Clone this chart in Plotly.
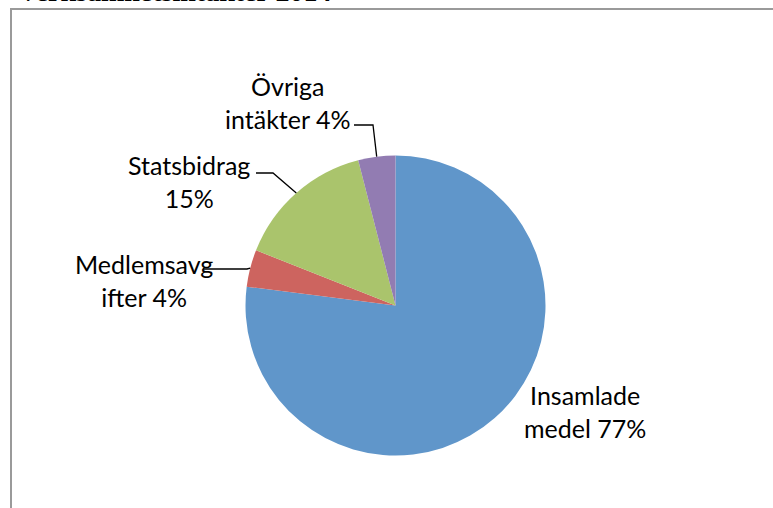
import math
import plotly.graph_objects as go

# ---- data ----
categories = ["Insamlade medel", "Medlemsavgifter", "Statsbidrag", "Övriga intäkter"]
values = [77, 4, 15, 4]
label_texts = ["Insamlade<br>medel 77%", "Medlemsavg<br>ifter 4%", "Statsbidrag<br>15%", "Övriga<br>intäkter 4%"]
colors = ["#6096CA", "#CD645F", "#AAC46C", "#927CB2"]
title_text = "Verksamhetsintäkter 2014"

# ---- layout (pixels) ----
W, H = 773, 508
cx, cy, r = 395.5, 305.5, 150.0
label_pos = [(585, 411), (144, 280), (189, 181.5), (287, 102.5)]
# leader: (label-side x, elbow x, y) ; None for no leader
leaders = [None, (203, 247, 269), (256, 273, 173), (354, 373, 125)]

def px(x):
    return x / W

def py(y):
    return 1 - y / H

fig = go.Figure(go.Pie(
    labels=categories,
    values=values,
    sort=False,
    direction="clockwise",
    rotation=0,
    textinfo="none",
    hoverinfo="label+percent",
    marker=dict(colors=colors, line=dict(width=0)),
    domain=dict(x=[px(cx - r), px(cx + r)], y=[py(cy + r), py(cy - r)]),
    showlegend=False,
))

annotations = []
shapes = []
total = sum(values)
cum = 0
for i, v in enumerate(values):
    mid = (cum + v / 2) / total * 2 * math.pi
    cum += v
    lx, ly = label_pos[i]
    annotations.append(dict(
        x=px(lx), y=py(ly), xref="paper", yref="paper",
        text=label_texts[i], showarrow=False, align="center",
        xanchor="center", yanchor="middle",
        font=dict(family="Lato", size=25, color="#000000"),
    ))
    if leaders[i] is not None:
        x0, x1, yl = leaders[i]
        ex = cx + r * math.sin(mid)
        ey = cy - r * math.cos(mid)
        path = f"M {px(x0)} {py(yl)} L {px(x1)} {py(yl)} L {px(ex)} {py(ey)}"
        shapes.append(dict(type="path", xref="paper", yref="paper", path=path,
                           line=dict(color="#000000", width=1.3)))

# frame
shapes.append(dict(type="rect", xref="paper", yref="paper",
                   x0=px(11), x1=px(W + 20), y0=py(H + 20), y1=py(9),
                   line=dict(color="#9A9A9A", width=2), fillcolor="rgba(0,0,0,0)", layer="below"))

# title (cut off at top)
annotations.append(dict(
    x=px(16), y=py(9), xref="paper", yref="paper", text="<b>" + title_text + "</b>",
    showarrow=False, xanchor="left", yanchor="bottom",
    font=dict(family="Liberation Serif", size=28, color="#000000"),
))

fig.update_layout(
    width=W, height=H, autosize=False,
    margin=dict(l=0, r=0, t=0, b=0),
    paper_bgcolor="white", plot_bgcolor="white",
    annotations=annotations, shapes=shapes,
)

fig.write_html("out.html", config={"displayModeBar": False},
               post_script="document.body.style.margin='0';")
